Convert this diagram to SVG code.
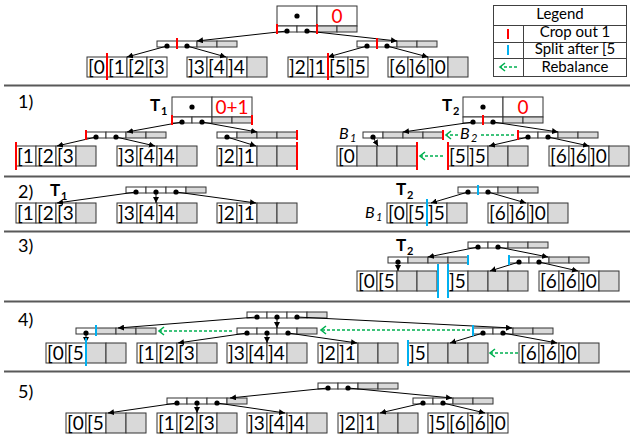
<svg xmlns="http://www.w3.org/2000/svg" width="634" height="439" viewBox="0 0 634 439">
<defs>
<marker id="ah" markerUnits="userSpaceOnUse" markerWidth="6" markerHeight="6" refX="6" refY="3" orient="auto"><path d="M0,0 L6,3 L0,6 z" fill="#000"/></marker>
<marker id="ga" markerUnits="userSpaceOnUse" markerWidth="8" markerHeight="10" refX="6" refY="5" orient="auto"><path d="M1,1 L6,5 L1,9" fill="none" stroke="#00b050" stroke-width="1.6"/></marker>
<style>
.w{fill:#fff;stroke:#333;stroke-width:1}
.g{fill:#d9d9d9;stroke:#333;stroke-width:1}
.t{font-family:Lato,"Open Sans",sans-serif;font-size:19px;fill:#000}
.v{font-family:Lato,"Open Sans",sans-serif;font-size:19px;fill:#f00;text-anchor:middle}
.lg{font-family:Lato,"Open Sans",sans-serif;font-size:15px;fill:#000;text-anchor:middle}
.sl{font-family:Lato,"Open Sans",sans-serif;font-size:18px;fill:#000}
.tb{font-family:Lato,"Open Sans",sans-serif;font-size:17px;font-weight:bold;fill:#000}
.sb{font-family:Lato,"Open Sans",sans-serif;font-size:11px;font-weight:bold;fill:#000}
.bi{font-family:Lato,"Open Sans",sans-serif;font-size:16px;font-style:italic;fill:#000}
.si{font-family:Lato,"Open Sans",sans-serif;font-size:11px;font-style:italic;fill:#000}
.e{stroke:#000;stroke-width:1;fill:none;marker-end:url(#ah)}
.r{stroke:#f00;stroke-width:2}
.b{stroke:#00b0f0;stroke-width:2}
.gr{stroke:#00b050;stroke-width:1.6;stroke-dasharray:3 2;fill:none;marker-end:url(#ga)}
.gl{stroke:#00b050;stroke-width:1.6;stroke-dasharray:3 2;fill:none}
.sep{stroke:#595959;stroke-width:2}
</style>
</defs>

<g id="separators">
<line class="sep" x1="4" y1="85.5" x2="630" y2="85.5"/>
<line class="sep" x1="4" y1="176.5" x2="630" y2="176.5"/>
<line class="sep" x1="4" y1="231.5" x2="630" y2="231.5"/>
<line class="sep" x1="4" y1="301.5" x2="630" y2="301.5"/>
<line class="sep" x1="4" y1="371.5" x2="630" y2="371.5"/>
</g>

<g id="legend">
<rect x="493.5" y="5.5" width="133" height="71" fill="#fff" stroke="#404040"/>
<line x1="493.5" y1="25.5" x2="626.5" y2="25.5" stroke="#404040"/>
<line x1="493.5" y1="42.5" x2="626.5" y2="42.5" stroke="#404040"/>
<line x1="493.5" y1="58.5" x2="626.5" y2="58.5" stroke="#404040"/>
<line x1="523.5" y1="25.5" x2="523.5" y2="76.5" stroke="#404040"/>
<text class="lg" x="560" y="19">Legend</text>
<text class="lg" x="575" y="37">Crop out 1</text>
<text class="lg" x="575" y="54">Split after [5</text>
<text class="lg" x="575" y="72">Rebalance</text>
<line class="r" x1="508" y1="29" x2="508" y2="39"/>
<line class="b" x1="508" y1="45" x2="508" y2="55"/>
<line class="gr" x1="517" y1="67" x2="500" y2="67"/>
</g>

<!-- ===== top section ===== -->
<g id="top-root">
<rect class="w" x="277" y="6" width="40" height="20"/><rect class="w" x="317" y="6" width="40" height="20"/>
<circle cx="297" cy="16" r="2.6"/>
<text class="v" x="337" y="23">0</text>
<rect class="w" x="277" y="26" width="20" height="6"/><rect class="w" x="297" y="26" width="20" height="6"/><rect class="g" x="317" y="26" width="20" height="6"/><rect class="g" x="337" y="26" width="20" height="6"/>
<circle cx="287" cy="31" r="2.6"/><circle cx="307" cy="31" r="2.6"/>
</g>
<g id="top-left">
<rect class="w" x="157" y="41" width="20" height="6"/><rect class="w" x="177" y="41" width="20" height="6"/><rect class="g" x="197" y="41" width="20" height="6"/><rect class="g" x="217" y="41" width="20" height="6"/>
<circle cx="167" cy="46" r="2.6"/><circle cx="187" cy="46" r="2.6"/>
</g>
<g id="top-right">
<rect class="w" x="357" y="41" width="20" height="6"/><rect class="w" x="377" y="41" width="20" height="6"/><rect class="g" x="397" y="41" width="20" height="6"/><rect class="g" x="417" y="41" width="20" height="6"/>
<circle cx="367" cy="46" r="2.6"/><circle cx="387" cy="46" r="2.6"/>
</g>
<g id="top-leaf1">
<rect class="w" x="87" y="57" width="20" height="20"/><rect class="w" x="107" y="57" width="20" height="20"/><rect class="w" x="127" y="57" width="20" height="20"/><rect class="w" x="147" y="57" width="20" height="20"/>
<text class="t" x="88" y="74">[0</text><text class="t" x="108" y="74">[1</text><text class="t" x="128" y="74">[2</text><text class="t" x="148" y="74">[3</text>
</g>
<g id="top-leaf2">
<rect class="w" x="187" y="57" width="20" height="20"/><rect class="w" x="207" y="57" width="20" height="20"/><rect class="w" x="227" y="57" width="20" height="20"/><rect class="g" x="247" y="57" width="20" height="20"/>
<text class="t" x="188" y="74">]3</text><text class="t" x="208" y="74">[4</text><text class="t" x="228" y="74">]4</text>
</g>
<g id="top-leaf3">
<rect class="w" x="288" y="57" width="20" height="20"/><rect class="w" x="308" y="57" width="20" height="20"/><rect class="w" x="328" y="57" width="20" height="20"/><rect class="w" x="348" y="57" width="20" height="20"/>
<text class="t" x="289" y="74">]2</text><text class="t" x="309" y="74">]1</text><text class="t" x="329" y="74">[5</text><text class="t" x="349" y="74">]5</text>
</g>
<g id="top-leaf4">
<rect class="w" x="388" y="57" width="20" height="20"/><rect class="w" x="408" y="57" width="20" height="20"/><rect class="w" x="428" y="57" width="20" height="20"/><rect class="g" x="448" y="57" width="20" height="20"/>
<text class="t" x="389" y="74">[6</text><text class="t" x="409" y="74">]6</text><text class="t" x="429" y="74">]0</text>
</g>

<!-- ===== section 1 ===== -->
<text class="sl" x="18" y="108">1)</text>
<text class="tb" x="150" y="111">T</text><text class="sb" x="161" y="115">1</text>
<g id="s1-t1-root">
<rect class="w" x="172" y="97" width="40" height="20"/><rect class="w" x="212" y="97" width="40" height="20"/>
<circle cx="192" cy="107" r="2.6"/>
<text class="v" x="232" y="114">0+1</text>
<rect class="w" x="172" y="117" width="20" height="6"/><rect class="w" x="192" y="117" width="20" height="6"/><rect class="g" x="212" y="117" width="20" height="6"/><rect class="g" x="232" y="117" width="20" height="6"/>
<circle cx="182" cy="122" r="2.6"/><circle cx="202" cy="122" r="2.6"/>
</g>
<g id="s1-t1-left">
<rect class="w" x="86" y="132" width="20" height="6"/><rect class="w" x="106" y="132" width="20" height="6"/><rect class="g" x="126" y="132" width="20" height="6"/><rect class="g" x="146" y="132" width="20" height="6"/>
<circle cx="96" cy="137" r="2.6"/><circle cx="116" cy="137" r="2.6"/>
</g>
<g id="s1-t1-right">
<rect class="w" x="217" y="132" width="20" height="6"/><rect class="g" x="237" y="132" width="20" height="6"/><rect class="g" x="257" y="132" width="20" height="6"/><rect class="g" x="277" y="132" width="20" height="6"/>
<circle cx="227" cy="137" r="2.6"/>
</g>
<g id="s1-leaf1">
<rect class="w" x="16" y="146" width="20" height="20"/><rect class="w" x="36" y="146" width="20" height="20"/><rect class="w" x="56" y="146" width="20" height="20"/><rect class="g" x="76" y="146" width="20" height="20"/>
<text class="t" x="17" y="163">[1</text><text class="t" x="37" y="163">[2</text><text class="t" x="57" y="163">[3</text>
</g>
<g id="s1-leaf2">
<rect class="w" x="117" y="146" width="20" height="20"/><rect class="w" x="137" y="146" width="20" height="20"/><rect class="w" x="157" y="146" width="20" height="20"/><rect class="g" x="177" y="146" width="20" height="20"/>
<text class="t" x="118" y="163">]3</text><text class="t" x="138" y="163">[4</text><text class="t" x="158" y="163">]4</text>
</g>
<g id="s1-leaf3">
<rect class="w" x="217" y="146" width="20" height="20"/><rect class="w" x="237" y="146" width="20" height="20"/><rect class="g" x="257" y="146" width="20" height="20"/><rect class="g" x="277" y="146" width="20" height="20"/>
<text class="t" x="218" y="163">]2</text><text class="t" x="238" y="163">]1</text>
</g>

<text class="tb" x="442" y="111">T</text><text class="sb" x="453" y="115">2</text>
<g id="s1-t2-root">
<rect class="w" x="463" y="97" width="40" height="20"/><rect class="w" x="503" y="97" width="40" height="20"/>
<circle cx="483" cy="107" r="2.6"/>
<text class="v" x="523" y="114">0</text>
<rect class="w" x="463" y="117" width="20" height="6"/><rect class="w" x="483" y="117" width="20" height="6"/><rect class="g" x="503" y="117" width="20" height="6"/><rect class="g" x="523" y="117" width="20" height="6"/>
<circle cx="473" cy="122" r="2.6"/><circle cx="493" cy="122" r="2.6"/>
</g>
<text class="bi" x="339" y="139">B</text><text class="si" x="350" y="142">1</text>
<g id="s1-b1">
<rect class="w" x="363" y="132" width="20" height="6"/><rect class="g" x="383" y="132" width="20" height="6"/><rect class="g" x="403" y="132" width="20" height="6"/><rect class="g" x="423" y="132" width="20" height="6"/>
<circle cx="373" cy="137" r="2.6"/>
</g>
<text class="bi" x="460" y="139">B</text><text class="si" x="471" y="142">2</text>
<g id="s1-b2">
<rect class="w" x="518" y="132" width="20" height="6"/><rect class="w" x="538" y="132" width="20" height="6"/><rect class="g" x="558" y="132" width="20" height="6"/><rect class="g" x="578" y="132" width="20" height="6"/>
<circle cx="528" cy="137" r="2.6"/><circle cx="548" cy="137" r="2.6"/>
</g>
<g id="s1-leaf4">
<rect class="w" x="337" y="146" width="20" height="20"/><rect class="g" x="357" y="146" width="20" height="20"/><rect class="g" x="377" y="146" width="20" height="20"/><rect class="g" x="397" y="146" width="20" height="20"/>
<text class="t" x="338" y="163">[0</text>
</g>
<g id="s1-leaf5">
<rect class="w" x="448" y="146" width="20" height="20"/><rect class="w" x="468" y="146" width="20" height="20"/><rect class="g" x="488" y="146" width="20" height="20"/><rect class="g" x="508" y="146" width="20" height="20"/>
<text class="t" x="449" y="163">[5</text><text class="t" x="469" y="163">]5</text>
</g>
<g id="s1-leaf6">
<rect class="w" x="549" y="146" width="20" height="20"/><rect class="w" x="569" y="146" width="20" height="20"/><rect class="w" x="589" y="146" width="20" height="20"/><rect class="g" x="609" y="146" width="20" height="20"/>
<text class="t" x="550" y="163">[6</text><text class="t" x="570" y="163">]6</text><text class="t" x="590" y="163">]0</text>
</g>

<!-- ===== section 2 ===== -->
<text class="sl" x="18" y="198">2)</text>
<text class="tb" x="50" y="196">T</text><text class="sb" x="61" y="200">1</text>
<g id="s2-t1">
<rect class="w" x="126" y="187" width="20" height="6"/><rect class="w" x="146" y="187" width="20" height="6"/><rect class="w" x="166" y="187" width="20" height="6"/><rect class="g" x="186" y="187" width="20" height="6"/>
<circle cx="136" cy="192" r="2.6"/><circle cx="156" cy="192" r="2.6"/><circle cx="176" cy="192" r="2.6"/>
</g>
<g id="s2-leaf1">
<rect class="w" x="16" y="203" width="20" height="20"/><rect class="w" x="36" y="203" width="20" height="20"/><rect class="w" x="56" y="203" width="20" height="20"/><rect class="g" x="76" y="203" width="20" height="20"/>
<text class="t" x="17" y="220">[1</text><text class="t" x="37" y="220">[2</text><text class="t" x="57" y="220">[3</text>
</g>
<g id="s2-leaf2">
<rect class="w" x="117" y="203" width="20" height="20"/><rect class="w" x="137" y="203" width="20" height="20"/><rect class="w" x="157" y="203" width="20" height="20"/><rect class="g" x="177" y="203" width="20" height="20"/>
<text class="t" x="118" y="220">]3</text><text class="t" x="138" y="220">[4</text><text class="t" x="158" y="220">]4</text>
</g>
<g id="s2-leaf3">
<rect class="w" x="217" y="203" width="20" height="20"/><rect class="w" x="237" y="203" width="20" height="20"/><rect class="g" x="257" y="203" width="20" height="20"/><rect class="g" x="277" y="203" width="20" height="20"/>
<text class="t" x="218" y="220">]2</text><text class="t" x="238" y="220">]1</text>
</g>
<text class="tb" x="396" y="195">T</text><text class="sb" x="407" y="199">2</text>
<g id="s2-t2">
<rect class="w" x="458" y="187" width="20" height="6"/><rect class="w" x="478" y="187" width="20" height="6"/><rect class="g" x="498" y="187" width="20" height="6"/><rect class="g" x="518" y="187" width="20" height="6"/>
<circle cx="468" cy="192" r="2.6"/><circle cx="488" cy="192" r="2.6"/>
</g>
<text class="bi" x="365" y="218">B</text><text class="si" x="376" y="221">1</text>
<g id="s2-leaf4">
<rect class="w" x="387" y="203" width="20" height="20"/><rect class="w" x="407" y="203" width="20" height="20"/><rect class="w" x="427" y="203" width="20" height="20"/><rect class="g" x="447" y="203" width="20" height="20"/>
<text class="t" x="388" y="220">[0</text><text class="t" x="408" y="220">[5</text><text class="t" x="428" y="220">]5</text>
</g>
<g id="s2-leaf5">
<rect class="w" x="488" y="203" width="20" height="20"/><rect class="w" x="508" y="203" width="20" height="20"/><rect class="w" x="528" y="203" width="20" height="20"/><rect class="g" x="548" y="203" width="20" height="20"/>
<text class="t" x="489" y="220">[6</text><text class="t" x="509" y="220">]6</text><text class="t" x="529" y="220">]0</text>
</g>

<!-- ===== section 3 ===== -->
<text class="sl" x="18" y="252">3)</text>
<text class="tb" x="396" y="251">T</text><text class="sb" x="407" y="255">2</text>
<g id="s3-root">
<rect class="w" x="468" y="242" width="20" height="6"/><rect class="w" x="488" y="242" width="20" height="6"/><rect class="g" x="508" y="242" width="20" height="6"/><rect class="g" x="528" y="242" width="20" height="6"/>
<circle cx="478" cy="247" r="2.6"/><circle cx="498" cy="247" r="2.6"/>
</g>
<g id="s3-left">
<rect class="w" x="388" y="257" width="20" height="6"/><rect class="g" x="408" y="257" width="20" height="6"/><rect class="g" x="428" y="257" width="20" height="6"/><rect class="g" x="448" y="257" width="20" height="6"/>
<circle cx="398" cy="262" r="2.6"/>
</g>
<g id="s3-right">
<rect class="w" x="509" y="257" width="20" height="6"/><rect class="w" x="529" y="257" width="20" height="6"/><rect class="g" x="549" y="257" width="20" height="6"/><rect class="g" x="569" y="257" width="20" height="6"/>
<circle cx="519" cy="262" r="2.6"/><circle cx="539" cy="262" r="2.6"/>
</g>
<g id="s3-leaf1">
<rect class="w" x="357" y="271" width="20" height="20"/><rect class="w" x="377" y="271" width="20" height="20"/><rect class="g" x="397" y="271" width="20" height="20"/><rect class="g" x="417" y="271" width="20" height="20"/>
<text class="t" x="358" y="288">[0</text><text class="t" x="378" y="288">[5</text>
</g>
<g id="s3-leaf2">
<rect class="w" x="448" y="271" width="20" height="20"/><rect class="g" x="468" y="271" width="20" height="20"/><rect class="g" x="488" y="271" width="20" height="20"/><rect class="g" x="508" y="271" width="20" height="20"/>
<text class="t" x="449" y="288">]5</text>
</g>
<g id="s3-leaf3">
<rect class="w" x="539" y="271" width="20" height="20"/><rect class="w" x="559" y="271" width="20" height="20"/><rect class="w" x="579" y="271" width="20" height="20"/><rect class="g" x="599" y="271" width="20" height="20"/>
<text class="t" x="540" y="288">[6</text><text class="t" x="560" y="288">]6</text><text class="t" x="580" y="288">]0</text>
</g>

<!-- ===== section 4 ===== -->
<text class="sl" x="18" y="326">4)</text>
<g id="s4-root">
<rect class="w" x="247" y="312" width="20" height="6"/><rect class="w" x="267" y="312" width="20" height="6"/><rect class="w" x="287" y="312" width="20" height="6"/><rect class="g" x="307" y="312" width="20" height="6"/>
<circle cx="257" cy="317" r="2.6"/><circle cx="277" cy="317" r="2.6"/><circle cx="297" cy="317" r="2.6"/>
</g>
<g id="s4-mid">
<rect class="w" x="237" y="328" width="20" height="6"/><rect class="w" x="257" y="328" width="20" height="6"/><rect class="w" x="277" y="328" width="20" height="6"/><rect class="g" x="297" y="328" width="20" height="6"/>
<circle cx="247" cy="333" r="2.6"/><circle cx="267" cy="333" r="2.6"/><circle cx="288" cy="333" r="2.6"/>
</g>
<g id="s4-left">
<rect class="w" x="76" y="328" width="20" height="6"/><rect class="g" x="96" y="328" width="20" height="6"/><rect class="g" x="116" y="328" width="20" height="6"/><rect class="g" x="136" y="328" width="20" height="6"/>
<circle cx="86" cy="333" r="2.6"/>
</g>
<g id="s4-right">
<rect class="w" x="473" y="328" width="20" height="6"/><rect class="w" x="493" y="328" width="20" height="6"/><rect class="g" x="513" y="328" width="20" height="6"/><rect class="g" x="533" y="328" width="20" height="6"/>
<circle cx="483" cy="333" r="2.6"/><circle cx="503" cy="333" r="2.6"/>
</g>
<g id="s4-leaf1">
<rect class="w" x="46" y="343" width="20" height="20"/><rect class="w" x="66" y="343" width="20" height="20"/><rect class="g" x="86" y="343" width="20" height="20"/><rect class="g" x="106" y="343" width="20" height="20"/>
<text class="t" x="47" y="360">[0</text><text class="t" x="67" y="360">[5</text>
</g>
<g id="s4-leaf2">
<rect class="w" x="137" y="343" width="20" height="20"/><rect class="w" x="157" y="343" width="20" height="20"/><rect class="w" x="177" y="343" width="20" height="20"/><rect class="g" x="197" y="343" width="20" height="20"/>
<text class="t" x="138" y="360">[1</text><text class="t" x="158" y="360">[2</text><text class="t" x="178" y="360">[3</text>
</g>
<g id="s4-leaf3">
<rect class="w" x="227" y="343" width="20" height="20"/><rect class="w" x="247" y="343" width="20" height="20"/><rect class="w" x="267" y="343" width="20" height="20"/><rect class="g" x="287" y="343" width="20" height="20"/>
<text class="t" x="228" y="360">]3</text><text class="t" x="248" y="360">[4</text><text class="t" x="268" y="360">]4</text>
</g>
<g id="s4-leaf4">
<rect class="w" x="318" y="343" width="20" height="20"/><rect class="w" x="338" y="343" width="20" height="20"/><rect class="g" x="358" y="343" width="20" height="20"/><rect class="g" x="378" y="343" width="20" height="20"/>
<text class="t" x="319" y="360">]2</text><text class="t" x="339" y="360">]1</text>
</g>
<g id="s4-leaf5">
<rect class="w" x="408" y="343" width="20" height="20"/><rect class="g" x="428" y="343" width="20" height="20"/><rect class="g" x="448" y="343" width="20" height="20"/><rect class="g" x="468" y="343" width="20" height="20"/>
<text class="t" x="409" y="360">]5</text>
</g>
<g id="s4-leaf6">
<rect class="w" x="519" y="343" width="20" height="20"/><rect class="w" x="539" y="343" width="20" height="20"/><rect class="w" x="559" y="343" width="20" height="20"/><rect class="g" x="579" y="343" width="20" height="20"/>
<text class="t" x="520" y="360">[6</text><text class="t" x="540" y="360">]6</text><text class="t" x="560" y="360">]0</text>
</g>

<!-- ===== section 5 ===== -->
<text class="sl" x="18" y="398">5)</text>
<g id="s5-root">
<rect class="w" x="318" y="383" width="20" height="6"/><rect class="w" x="338" y="383" width="20" height="6"/><rect class="g" x="358" y="383" width="20" height="6"/><rect class="g" x="378" y="383" width="20" height="6"/>
<circle cx="328" cy="388" r="2.6"/><circle cx="348" cy="388" r="2.6"/>
</g>
<g id="s5-left">
<rect class="w" x="167" y="398" width="20" height="6"/><rect class="w" x="187" y="398" width="20" height="6"/><rect class="w" x="207" y="398" width="20" height="6"/><rect class="g" x="227" y="398" width="20" height="6"/>
<circle cx="177" cy="403" r="2.6"/><circle cx="197" cy="403" r="2.6"/><circle cx="217" cy="403" r="2.6"/>
</g>
<g id="s5-right">
<rect class="w" x="413" y="398" width="20" height="6"/><rect class="w" x="433" y="398" width="20" height="6"/><rect class="g" x="453" y="398" width="20" height="6"/><rect class="g" x="473" y="398" width="20" height="6"/>
<circle cx="423" cy="403" r="2.6"/><circle cx="443" cy="403" r="2.6"/>
</g>
<g id="s5-leaf1">
<rect class="w" x="66" y="413" width="20" height="20"/><rect class="w" x="86" y="413" width="20" height="20"/><rect class="g" x="106" y="413" width="20" height="20"/><rect class="g" x="126" y="413" width="20" height="20"/>
<text class="t" x="67" y="430">[0</text><text class="t" x="87" y="430">[5</text>
</g>
<g id="s5-leaf2">
<rect class="w" x="157" y="413" width="20" height="20"/><rect class="w" x="177" y="413" width="20" height="20"/><rect class="w" x="197" y="413" width="20" height="20"/><rect class="g" x="217" y="413" width="20" height="20"/>
<text class="t" x="158" y="430">[1</text><text class="t" x="178" y="430">[2</text><text class="t" x="198" y="430">[3</text>
</g>
<g id="s5-leaf3">
<rect class="w" x="247" y="413" width="20" height="20"/><rect class="w" x="267" y="413" width="20" height="20"/><rect class="w" x="287" y="413" width="20" height="20"/><rect class="g" x="307" y="413" width="20" height="20"/>
<text class="t" x="248" y="430">]3</text><text class="t" x="268" y="430">[4</text><text class="t" x="288" y="430">]4</text>
</g>
<g id="s5-leaf4">
<rect class="w" x="338" y="413" width="20" height="20"/><rect class="w" x="358" y="413" width="20" height="20"/><rect class="g" x="378" y="413" width="20" height="20"/><rect class="g" x="398" y="413" width="20" height="20"/>
<text class="t" x="339" y="430">]2</text><text class="t" x="359" y="430">]1</text>
</g>
<g id="s5-leaf5">
<rect class="w" x="428" y="413" width="20" height="20"/><rect class="w" x="448" y="413" width="20" height="20"/><rect class="w" x="468" y="413" width="20" height="20"/><rect class="w" x="488" y="413" width="20" height="20"/>
<text class="t" x="429" y="430">]5</text><text class="t" x="449" y="430">[6</text><text class="t" x="469" y="430">]6</text><text class="t" x="489" y="430">]0</text>
</g>

<!-- ===== connectors ===== -->
<g id="connectors">
<line class="e" x1="287" y1="31" x2="197" y2="41"/>
<line class="e" x1="307" y1="31" x2="397" y2="41"/>
<line class="e" x1="167" y1="46" x2="127" y2="57"/>
<line class="e" x1="187" y1="46" x2="226" y2="57"/>
<line class="e" x1="367" y1="46" x2="328" y2="57"/>
<line class="e" x1="387" y1="46" x2="428" y2="57"/>

<line class="e" x1="182" y1="122" x2="127" y2="132"/>
<line class="e" x1="202" y1="122" x2="257" y2="132"/>
<line class="e" x1="96" y1="137" x2="57" y2="146"/>
<line class="e" x1="116" y1="137" x2="155" y2="146"/>
<line class="e" x1="227" y1="137" x2="256" y2="146"/>
<line class="e" x1="473" y1="122" x2="403" y2="132"/>
<line class="e" x1="493" y1="122" x2="558" y2="132"/>
<line class="e" x1="373" y1="137" x2="378" y2="146"/>
<line class="e" x1="528" y1="137" x2="489" y2="146"/>
<line class="e" x1="548" y1="137" x2="589" y2="146"/>

<line class="e" x1="136" y1="192" x2="57" y2="203"/>
<line class="e" x1="156" y1="192" x2="156" y2="203"/>
<line class="e" x1="176" y1="192" x2="256" y2="203"/>
<line class="e" x1="468" y1="192" x2="431" y2="203"/>
<line class="e" x1="488" y1="192" x2="526" y2="203"/>

<line class="e" x1="478" y1="247" x2="428" y2="257"/>
<line class="e" x1="498" y1="247" x2="548" y2="257"/>
<line class="e" x1="398" y1="262" x2="398" y2="271"/>
<line class="e" x1="519" y1="262" x2="490" y2="271"/>
<line class="e" x1="539" y1="262" x2="578" y2="271"/>

<line class="e" x1="257" y1="317" x2="118" y2="328"/>
<line class="e" x1="277" y1="317" x2="277" y2="328"/>
<line class="e" x1="297" y1="317" x2="512" y2="328"/>
<line class="e" x1="86" y1="333" x2="86" y2="343"/>
<line class="e" x1="247" y1="333" x2="178" y2="343"/>
<line class="e" x1="267" y1="333" x2="267" y2="343"/>
<line class="e" x1="288" y1="333" x2="357" y2="343"/>
<line class="e" x1="483" y1="333" x2="450" y2="343"/>
<line class="e" x1="503" y1="333" x2="557" y2="343"/>

<line class="e" x1="328" y1="388" x2="230" y2="398"/>
<line class="e" x1="348" y1="388" x2="452" y2="398"/>
<line class="e" x1="177" y1="403" x2="108" y2="413"/>
<line class="e" x1="197" y1="403" x2="197" y2="413"/>
<line class="e" x1="217" y1="403" x2="285" y2="413"/>
<line class="e" x1="423" y1="403" x2="380" y2="413"/>
<line class="e" x1="443" y1="403" x2="485" y2="413"/>

<line class="gl" x1="514" y1="135" x2="480" y2="135"/>
<line class="gr" x1="458" y1="135" x2="446" y2="135"/>
<line class="gr" x1="443" y1="156" x2="420" y2="156"/>
<line class="gr" x1="232" y1="331" x2="159" y2="331"/>
<line class="gr" x1="470" y1="330" x2="321" y2="330"/>
<line class="gr" x1="518" y1="353" x2="490" y2="353"/>
</g>

<g id="marks">
<line class="r" x1="277" y1="24" x2="277" y2="34"/>
<line class="r" x1="317" y1="24" x2="317" y2="34"/>
<line class="r" x1="177" y1="38" x2="177" y2="49"/>
<line class="r" x1="377" y1="38" x2="377" y2="49"/>
<line class="r" x1="107" y1="53" x2="107" y2="80"/>
<line class="r" x1="328" y1="53" x2="328" y2="80"/>

<line class="r" x1="172" y1="115" x2="172" y2="125"/>
<line class="r" x1="252" y1="115" x2="252" y2="125"/>
<line class="r" x1="86" y1="130" x2="86" y2="140"/>
<line class="r" x1="297" y1="130" x2="297" y2="140"/>
<line class="r" x1="16" y1="142" x2="16" y2="170"/>
<line class="r" x1="297" y1="142" x2="297" y2="170"/>
<line class="r" x1="483" y1="115" x2="483" y2="125"/>
<line class="r" x1="443" y1="130" x2="443" y2="140"/>
<line class="r" x1="518" y1="130" x2="518" y2="140"/>
<line class="r" x1="417" y1="142" x2="417" y2="170"/>
<line class="r" x1="448" y1="142" x2="448" y2="170"/>

<line class="b" x1="478" y1="185" x2="478" y2="195"/>
<line class="b" x1="427" y1="199" x2="427" y2="226"/>

<line class="b" x1="468" y1="255" x2="468" y2="265"/>
<line class="b" x1="509" y1="255" x2="509" y2="265"/>
<line class="b" x1="438" y1="264" x2="438" y2="298"/>
<line class="b" x1="448" y1="264" x2="448" y2="298"/>

<line class="b" x1="96" y1="325" x2="96" y2="336"/>
<line class="b" x1="473" y1="325" x2="473" y2="336"/>
<line class="b" x1="86" y1="338" x2="86" y2="366"/>
<line class="b" x1="408" y1="340" x2="408" y2="366"/>
</g>
</svg>
